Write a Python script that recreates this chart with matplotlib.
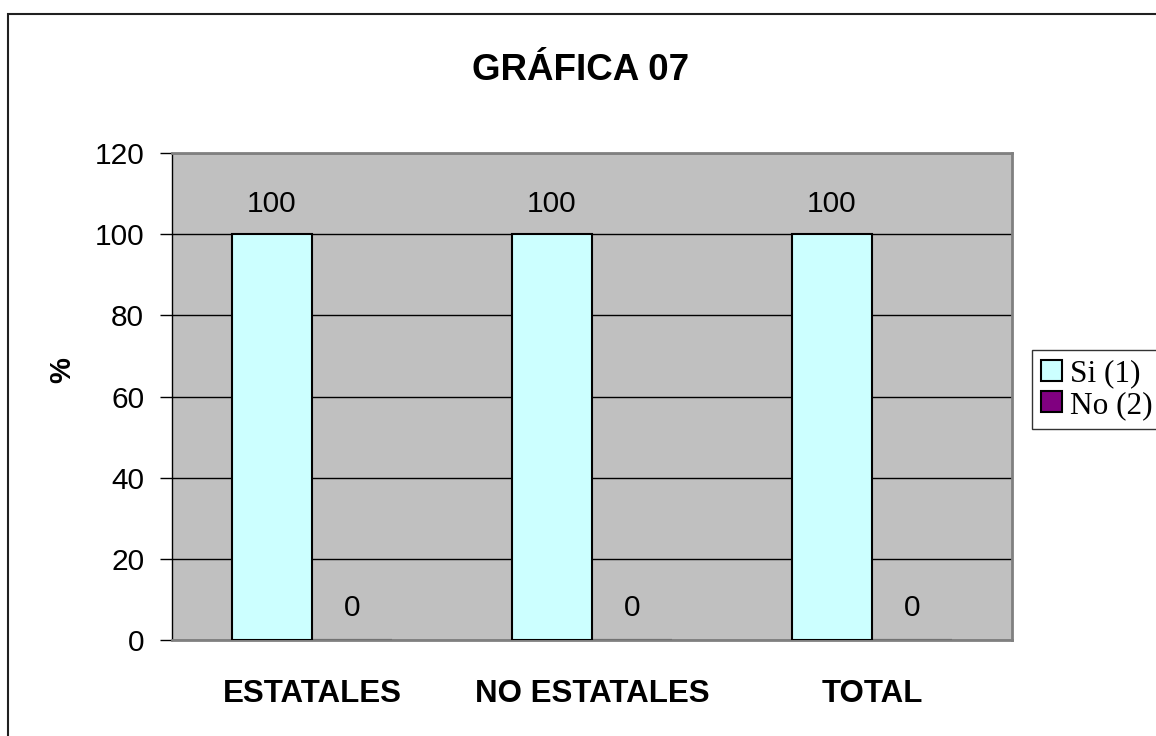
import matplotlib.pyplot as plt
import numpy as np
from matplotlib.patches import Rectangle

plt.rcParams['font.family'] = ['Liberation Sans', 'DejaVu Sans']

# data
categories = ['ESTATALES', 'NO ESTATALES', 'TOTAL']
si_values = [100, 100, 100]
no_values = [0, 0, 0]
series_names = ['Si (1)', 'No (2)']

fig = plt.figure(figsize=(11.56, 7.36), dpi=100)
fig.patch.set_facecolor('white')

# outer chart border (runs off the right and bottom edges)
fig.patches.append(Rectangle((8/1156, -0.05), 1.2, 1 - 14/736 + 0.05,
                             transform=fig.transFigure, fill=False,
                             edgecolor='#202020', linewidth=1.5))

ax = fig.add_axes([172/1156, 1 - 640/736, 840/1156, 487/736])
ax.set_facecolor('#C0C0C0')

x = np.arange(len(categories))
w = 0.2857
bars_si = ax.bar(x - w/2, si_values, w, color='#CCFFFF', edgecolor='black',
                 linewidth=1.5, label=series_names[0], zorder=3)
# zero-height bars sit under the bottom spine
bars_no = ax.bar(x + w/2, no_values, w, color='#800080', edgecolor='black',
                 linewidth=1.5, label=series_names[1], zorder=2)

# value labels
for b, v in zip(bars_si, si_values):
    ax.annotate(str(v), (b.get_x() + b.get_width()/2, v), xytext=(0, 22),
                textcoords='offset points', ha='center', va='center', fontsize=21.5)
for b, v in zip(bars_no, no_values):
    ax.annotate(str(v), (b.get_x() + b.get_width()/2, v), xytext=(0, 23),
                textcoords='offset points', ha='center', va='center', fontsize=21.5)

ax.set_xlim(-0.5, 2.5)
ax.set_ylim(0, 120)
ax.set_yticks(range(0, 121, 20))
ax.yaxis.grid(True, color='black', linewidth=1)
ax.set_axisbelow(True)

ax.set_xticks(x)
ax.set_xticklabels(categories, fontsize=22.5, fontweight='bold')
ax.tick_params(axis='x', length=0, pad=28)
ax.tick_params(axis='y', labelsize=21.5, length=9, width=1, direction='out', pad=11)

for s in ['top', 'right', 'bottom']:
    ax.spines[s].set_color('#808080')
    ax.spines[s].set_linewidth(2)
ax.spines['left'].set_color('black')
ax.spines['left'].set_linewidth(1)

fig.text(62/1156, 1 - 370/736, '%', rotation=90, ha='center', va='center',
         fontsize=21, fontweight='bold')

fig.text(0.502, 1 - 71/736, 'GRÁFICA 07', ha='center', va='center',
         fontsize=26.5, fontweight='bold')

leg = fig.legend(handles=[bars_si, bars_no], labels=series_names,
                 loc='upper left', bbox_to_anchor=(1032/1156, 1 - 350/736),
                 prop={'family': 'Liberation Serif', 'size': 22.5},
                 frameon=True, fancybox=False, handlelength=0.65, handleheight=0.65,
                 handletextpad=0.25, borderpad=0.3, labelspacing=0.08,
                 borderaxespad=0)
leg.get_frame().set_edgecolor('black')
leg.get_frame().set_linewidth(1)

fig.savefig('out.png', dpi=100)
